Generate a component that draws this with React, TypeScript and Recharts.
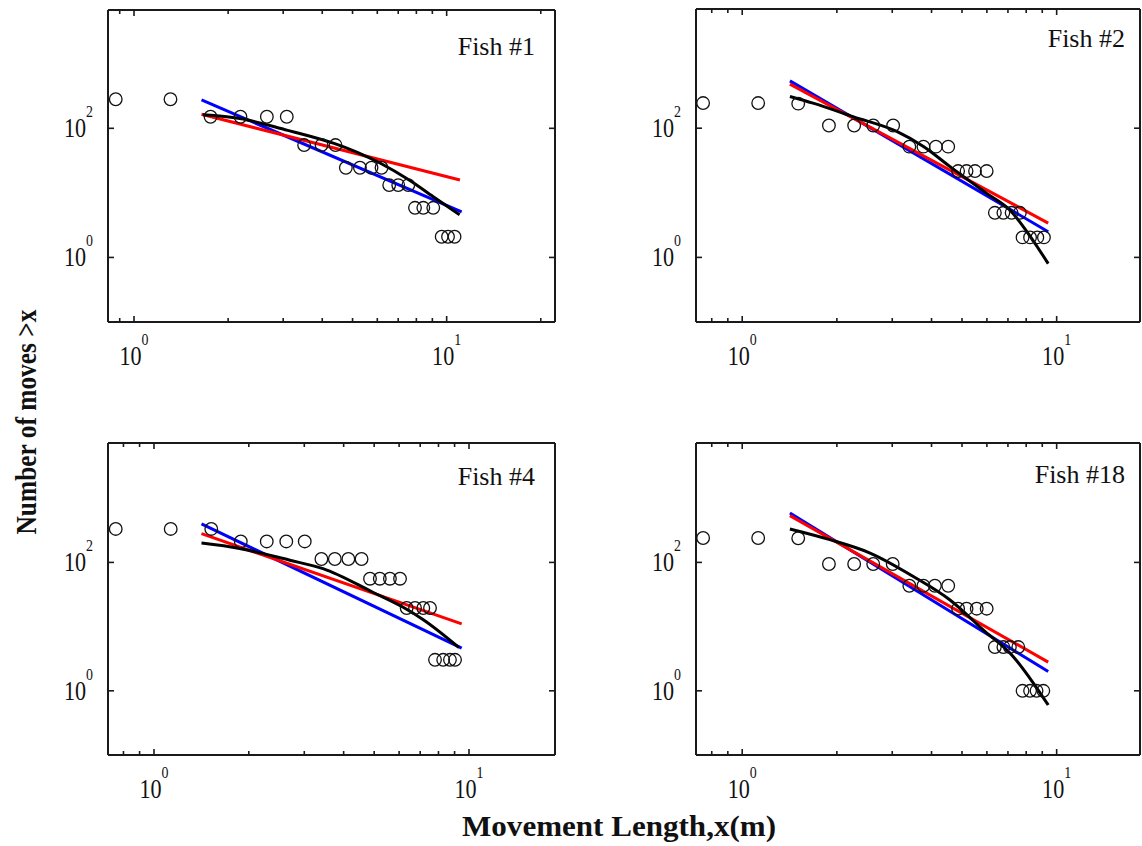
import React from 'react';
import { ComposedChart, Scatter, Line, XAxis, YAxis } from 'recharts';

const SERIF = '"Liberation Serif", "Times New Roman", serif';
const AX = '#1a1a1a';

// ---------- Fish #1 ----------
const fish1PointX = [0.874, 1.308, 1.757, 2.19, 2.66, 3.08, 3.5, 3.98, 4.41, 4.76, 5.28, 5.75, 6.19, 6.55, 7.0, 7.54, 7.92, 8.42, 9.06, 9.64, 10.1, 10.6];
const fish1PointY = [282, 282, 151, 151, 151, 151, 55, 55, 55, 24.5, 24.5, 24.5, 24.5, 13.2, 13.2, 13.2, 5.87, 5.87, 5.87, 2.09, 2.09, 2.09];
const fish1BlueX = [1.644, 11.17];
const fish1BlueY = [275, 5.1];
const fish1RedX = [1.644, 11.03];
const fish1RedY = [165, 15.8];
const fish1BlackX = [1.66, 2.18, 3.1, 4.03, 4.34, 5.2, 6.12, 7.63, 9.06, 11.0];
const fish1BlackY = [162, 142, 93, 66, 59, 42, 29, 15.5, 8.7, 4.6];

// ---------- Fish #2 ----------
const fish2PointX = [0.751, 1.124, 1.507, 1.887, 2.27, 2.61, 3.02, 3.4, 3.77, 4.13, 4.52, 4.86, 5.17, 5.5, 5.99, 6.36, 6.77, 7.19, 7.64, 7.79, 8.23, 8.68, 9.11];
const fish2PointY = [245, 245, 240, 110, 110, 110, 110, 51.8, 51.8, 51.8, 51.8, 21.7, 21.7, 21.7, 21.7, 4.9, 4.9, 4.9, 4.9, 2.04, 2.04, 2.04, 2.04];
const fish2BlueX = [1.418, 9.4];
const fish2BlueY = [540, 2.5];
const fish2RedX = [1.418, 9.4];
const fish2RedY = [480, 3.4];
const fish2BlackX = [1.418, 1.68, 2.25, 3.1, 3.77, 4.58, 5.99, 7.1, 7.83, 9.4];
const fish2BlackY = [310, 244, 151, 89, 52, 25.4, 9.8, 5.4, 3.0, 0.8];

// ---------- Fish #4 ----------
const fish4PointX = [0.756, 1.13, 1.52, 1.886, 2.28, 2.63, 3.01, 3.4, 3.75, 4.14, 4.56, 4.85, 5.21, 5.61, 6.04, 6.34, 6.74, 7.16, 7.52, 7.8, 8.28, 8.7, 9.03];
const fish4PointY = [332, 332, 332, 212, 212, 212, 212, 113, 113, 113, 113, 55.7, 55.7, 55.7, 55.7, 19.5, 19.5, 19.5, 19.5, 3.04, 3.04, 3.04, 3.04];
const fish4BlueX = [1.415, 9.48];
const fish4BlueY = [397, 4.63];
const fish4RedX = [1.415, 9.48];
const fish4RedY = [280, 11.0];
const fish4BlackX = [1.415, 1.87, 2.7, 3.44, 4.97, 6.18, 7.16, 9.3];
const fish4BlackY = [200, 165, 108, 80, 34, 20, 12.8, 4.7];

// ---------- Fish #18 ----------
const fish18PointX = [0.751, 1.124, 1.507, 1.887, 2.27, 2.61, 3.01, 3.4, 3.77, 4.1, 4.52, 4.86, 5.17, 5.57, 5.99, 6.36, 6.77, 7.1, 7.55, 7.79, 8.23, 8.63, 9.07];
const fish18PointY = [240, 240, 238, 94.4, 94.4, 94.4, 94.4, 43.3, 43.3, 43.3, 43.3, 19.0, 19.0, 19.0, 19.0, 4.8, 4.8, 4.8, 4.8, 1.0, 1.0, 1.0, 1.0];
const fish18BlueX = [1.418, 9.4];
const fish18BlueY = [589, 2.0];
const fish18RedX = [1.418, 9.4];
const fish18RedY = [535, 2.8];
const fish18BlackX = [1.418, 1.9, 2.55, 3.5, 4.58, 5.84, 7.28, 8.43, 9.4];
const fish18BlackY = [332, 226, 140, 60.5, 26, 8.9, 3.4, 1.32, 0.6];

// ---------- ticks & labels ----------
const xTickValues = [0.8, 0.9, 1, 2, 3, 4, 5, 6, 7, 8, 9, 10, 20];
const yTickValues = [1, 100];
const panelLabels = ['Fish #1', 'Fish #2', 'Fish #4', 'Fish #18'];
const xTitle = 'Movement Length,x(m)';
const yTitle = 'Number of moves >x';

const zip = (xs: number[], ys: number[]) => xs.map((x, i) => ({ x, y: ys[i] }));

const isMajor = (v: number) => Math.abs(Math.log10(v) - Math.round(Math.log10(v))) < 1e-6;
const expOf = (v: number) => Math.round(Math.log10(v));

const PowLabel = ({ exp, anchor }: { exp: number; anchor: 'middle' | 'end' }) => (
  <text x={0} y={0} textAnchor={anchor} fontFamily={SERIF} fontSize={27} fill="#111">
    10
    <tspan fontSize={17} dy={-20}>{exp}</tspan>
  </text>
);

const BottomTick = (p: any) => {
  const { x, y, payload } = p;
  const v = payload.value;
  const major = isMajor(v);
  return (
    <g>
      <line x1={x} x2={x} y1={y} y2={y - (major ? 6 : 4)} stroke={AX} strokeWidth={1.6} />
      {major && (
        <g transform={`translate(${x},${y + 43}) scale(0.82,1)`}>
          <PowLabel exp={expOf(v)} anchor="middle" />
        </g>
      )}
    </g>
  );
};

const TopTick = (p: any) => {
  const { x, y, payload } = p;
  const major = isMajor(payload.value);
  return <line x1={x} x2={x} y1={y} y2={y + (major ? 6 : 4)} stroke={AX} strokeWidth={1.6} />;
};

const LeftTick = (p: any) => {
  const { x, y, payload } = p;
  return (
    <g>
      <line x1={x} x2={x + 6} y1={y} y2={y} stroke={AX} strokeWidth={1.6} />
      <g transform={`translate(${x - 15},${y + 9}) scale(0.82,1)`}>
        <PowLabel exp={expOf(payload.value)} anchor="end" />
      </g>
    </g>
  );
};

const RightTick = (p: any) => {
  const { x, y } = p;
  return <line x1={x} x2={x - 6} y1={y} y2={y} stroke={AX} strokeWidth={1.6} />;
};

const CircleShape = (p: any) => (
  <circle cx={p.cx} cy={p.cy} r={6.3} fill="none" stroke="#111" strokeWidth={1.3} />
);

type PanelProps = {
  left: number;
  top: number;
  width: number;
  height: number;
  xDomain: [number, number];
  yDomain: [number, number];
  points: { x: number; y: number }[];
  blue: { x: number; y: number }[];
  red: { x: number; y: number }[];
  black: { x: number; y: number }[];
};

const Panel = ({ left, top, width, height, xDomain, yDomain, points, blue, red, black }: PanelProps) => {
  const padL = 100;
  const padT = 8;
  const padR = 2;
  const padB = 60;
  const ticks = xTickValues.filter((t) => t >= xDomain[0] && t <= xDomain[1]);
  const axisLine = { stroke: AX, strokeWidth: 2 };
  return (
    <div style={{ position: 'absolute', left: left - padL, top: top - padT }}>
      <ComposedChart
        width={width + padL + padR}
        height={height + padT + padB}
        margin={{ top: 0, right: 0, bottom: 0, left: 0 }}
      >
        <XAxis xAxisId="b" orientation="bottom" type="number" dataKey="x" scale="log" domain={xDomain}
          allowDataOverflow ticks={ticks} interval={0} tickSize={0} tickMargin={0} tickLine={false}
          tick={BottomTick} axisLine={axisLine} height={padB} />
        <XAxis xAxisId="t" orientation="top" type="number" dataKey="x" scale="log" domain={xDomain}
          allowDataOverflow ticks={ticks} interval={0} tickSize={0} tickMargin={0} tickLine={false}
          tick={TopTick} axisLine={axisLine} height={padT} />
        <YAxis yAxisId="l" orientation="left" type="number" dataKey="y" scale="log" domain={yDomain}
          allowDataOverflow ticks={yTickValues} interval={0} tickSize={0} tickMargin={0} tickLine={false}
          tick={LeftTick} axisLine={axisLine} width={padL} />
        <YAxis yAxisId="r" orientation="right" type="number" dataKey="y" scale="log" domain={yDomain}
          allowDataOverflow ticks={yTickValues} interval={0} tickSize={0} tickMargin={0} tickLine={false}
          tick={RightTick} axisLine={axisLine} width={padR} />
        <Scatter xAxisId="b" yAxisId="l" data={points} shape={CircleShape} isAnimationActive={false} />
        <Line xAxisId="b" yAxisId="l" data={blue} dataKey="y" type="linear" stroke="#0000ff"
          strokeWidth={3} dot={false} activeDot={false} isAnimationActive={false} />
        <Line xAxisId="b" yAxisId="l" data={red} dataKey="y" type="linear" stroke="#ff0000"
          strokeWidth={3} dot={false} activeDot={false} isAnimationActive={false} />
        <Line xAxisId="b" yAxisId="l" data={black} dataKey="y" type="monotone" stroke="#000000"
          strokeWidth={3} dot={false} activeDot={false} isAnimationActive={false} />
      </ComposedChart>
    </div>
  );
};

export default function App() {
  return (
    <div style={{ position: 'absolute', left: 0, top: 0, width: 1142, height: 846, overflow: 'hidden', background: '#fff' }}>
      <Panel left={108} top={10} width={447} height={312} xDomain={[0.8256, 22.21]} yDomain={[0.1, 6800]}
        points={zip(fish1PointX, fish1PointY)} blue={zip(fish1BlueX, fish1BlueY)}
        red={zip(fish1RedX, fish1RedY)} black={zip(fish1BlackX, fish1BlackY)} />
      <Panel left={696} top={9} width={444} height={313} xDomain={[0.7129, 18.41]} yDomain={[0.1, 7000]}
        points={zip(fish2PointX, fish2PointY)} blue={zip(fish2BlueX, fish2BlueY)}
        red={zip(fish2RedX, fish2RedY)} black={zip(fish2BlackX, fish2BlackY)} />
      <Panel left={108} top={443} width={447} height={312} xDomain={[0.7145, 18.75]} yDomain={[0.1, 7244]}
        points={zip(fish4PointX, fish4PointY)} blue={zip(fish4BlueX, fish4BlueY)}
        red={zip(fish4RedX, fish4RedY)} black={zip(fish4BlackX, fish4BlackY)} />
      <Panel left={696} top={443} width={444} height={312} xDomain={[0.7129, 18.41]} yDomain={[0.1, 7244]}
        points={zip(fish18PointX, fish18PointY)} blue={zip(fish18BlueX, fish18BlueY)}
        red={zip(fish18RedX, fish18RedY)} black={zip(fish18BlackX, fish18BlackY)} />
      <svg width={1142} height={846} style={{ position: 'absolute', left: 0, top: 0, pointerEvents: 'none' }}>
        <text x={535} y={55} textAnchor="end" fontFamily={SERIF} fontSize={26} fill="#111">{panelLabels[0]}</text>
        <text x={1125} y={47} textAnchor="end" fontFamily={SERIF} fontSize={26} fill="#111">{panelLabels[1]}</text>
        <text x={535} y={485} textAnchor="end" fontFamily={SERIF} fontSize={26} fill="#111">{panelLabels[2]}</text>
        <text x={1125} y={483} textAnchor="end" fontFamily={SERIF} fontSize={26} fill="#111">{panelLabels[3]}</text>
        <text x={619} y={836} textAnchor="middle" fontFamily={SERIF} fontSize={30} fontWeight="bold" fill="#111"
          textLength={314} lengthAdjust="spacingAndGlyphs">{xTitle}</text>
        <text transform="translate(36,422) rotate(-90)" x={0} y={0} textAnchor="middle" fontFamily={SERIF}
          fontSize={29} fontWeight="bold" fill="#111" textLength={225} lengthAdjust="spacingAndGlyphs">{yTitle}</text>
      </svg>
    </div>
  );
}
